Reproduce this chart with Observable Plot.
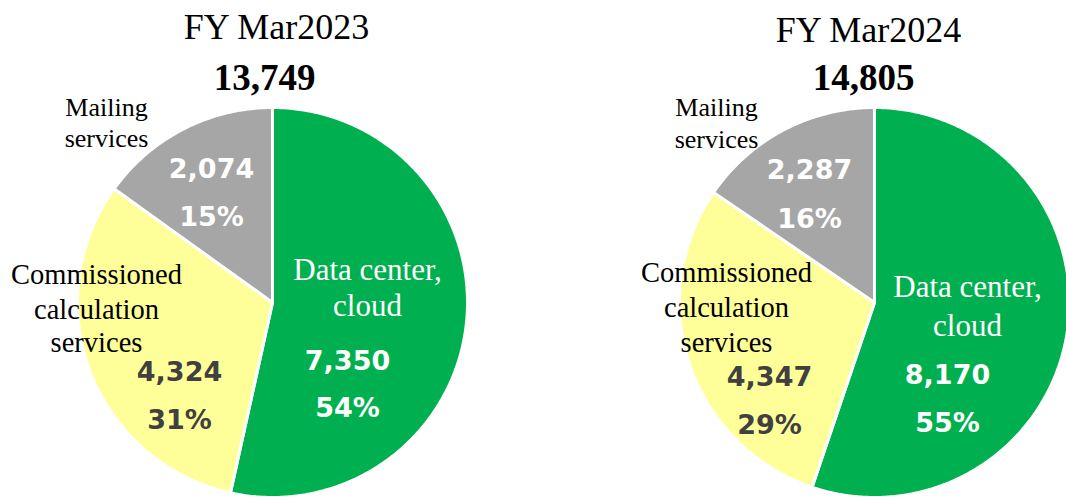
<!DOCTYPE html>
<html><head><meta charset="utf-8">
<script src="https://cdn.jsdelivr.net/npm/d3@7"></script>
<script src="https://cdn.jsdelivr.net/npm/@observablehq/plot@0.6"></script>
<style>
body{margin:0;background:#fff}
#chart{width:1066px;height:498px;overflow:hidden}
</style>
</head><body><div id="chart"></div>
<script>
// ---- data ----
const years = ["FY Mar2023", "FY Mar2024"];
const totals = [13749, 14805];
const categories = ["Data center, cloud", "Commissioned calculation services", "Mailing services"];
const categoryLines = [["Data center,", "cloud"], ["Commissioned", "calculation", "services"], ["Mailing", "services"]];
const dataCenterValues = [7350, 8170];
const commissionedValues = [4324, 4347];
const mailingValues = [2074, 2287];
const dataCenterShares = [54, 55];
const commissionedShares = [31, 29];
const mailingShares = [15, 16];

// ---- styles & layout ----
const colors = ["#00B050", "#FFFF99", "#A6A6A6"];
const nameColors = ["#ffffff", "#000000", "#000000"];
const valueColors = ["#ffffff", "#404040", "#ffffff"];
const nameSizes = [31, 28.5, 26];
const layout = {
  width: 1066, height: 498, radius: 195,
  centers: [[272, 302], [874, 302]],
  title: [[276, 38], [868, 41]],
  total: [[264, 89], [863, 89]],
  names: [
    [[95, [-23, 13]], [-176, [-19, 16, 49]], [-166, [-187, -156]]],
    [[93, [-6, 33]], [-148, [-21, 14, 49]], [-158, [-187, -155]]]
  ],
  values: [
    [[75, 67, 114], [-93, 78, 126], [-61, -125, -77]],
    [[73, 81, 129], [-105, 83, 131], [-65, -124, -75]]
  ]
};

const fmt = d3.format(",");
const valueSets = years.map((y, i) => [dataCenterValues[i], commissionedValues[i], mailingValues[i]]);
const shareSets = years.map((y, i) => [dataCenterShares[i], commissionedShares[i], mailingShares[i]]);

// slice outlines from d3.pie angles
const slicePoints = [];
valueSets.forEach((vals, i) => {
  const [cx, cy] = layout.centers[i];
  const R = layout.radius;
  const arcs = d3.pie().sort(null)(vals);
  arcs.forEach((a, k) => {
    const key = years[i] + "|" + categories[k];
    slicePoints.push({key, x: cx, y: cy, color: colors[k]});
    const n = Math.max(2, Math.ceil((a.endAngle - a.startAngle) / 0.01));
    for (let j = 0; j <= n; j++) {
      const t = a.startAngle + (a.endAngle - a.startAngle) * j / n;
      slicePoints.push({key, x: cx + R * Math.sin(t), y: cy - R * Math.cos(t), color: colors[k]});
    }
    slicePoints.push({key, x: cx, y: cy, color: colors[k]});
  });
});

// text rows
const titleRows = years.map((y, i) => ({x: layout.title[i][0], y: layout.title[i][1], text: y}));
const totalRows = totals.map((t, i) => ({x: layout.total[i][0], y: layout.total[i][1], text: fmt(t)}));
const nameRows = [];
const valueRows = [];
years.forEach((yr, i) => {
  const [cx, cy] = layout.centers[i];
  categoryLines.forEach((lines, k) => {
    const [dx, dys] = layout.names[i][k];
    lines.forEach((line, j) => nameRows.push({x: cx + dx, y: cy + dys[j], text: line, k}));
    const [vdx, vdy1, vdy2] = layout.values[i][k];
    valueRows.push({x: cx + vdx, y: cy + vdy1, text: fmt(valueSets[i][k]), k});
    valueRows.push({x: cx + vdx, y: cy + vdy2, text: shareSets[i][k] + "%", k});
  });
});

const serif = "'Liberation Serif','Times New Roman',serif";
const sans = "'DejaVu Sans',Verdana,sans-serif";

const marks = [
  Plot.line(slicePoints, {x: "x", y: "y", z: "key", fill: "color", stroke: "white", strokeWidth: 3, strokeLinejoin: "round"}),
  Plot.text(titleRows, {x: "x", y: "y", text: "text", fontSize: 36, fontFamily: serif, fill: "black", lineAnchor: "bottom"}),
  Plot.text(totalRows, {x: "x", y: "y", text: "text", fontSize: 37, fontWeight: "bold", fontFamily: serif, fill: "black", lineAnchor: "bottom"})
];
[0, 1, 2].forEach(k => {
  marks.push(Plot.text(nameRows.filter(d => d.k === k), {x: "x", y: "y", text: "text", fontSize: nameSizes[k], fontFamily: serif, fill: nameColors[k], lineAnchor: "bottom"}));
  marks.push(Plot.text(valueRows.filter(d => d.k === k), {x: "x", y: "y", text: "text", fontSize: 27, fontWeight: "bold", fontFamily: sans, fill: valueColors[k], lineAnchor: "bottom"}));
});

const chart = Plot.plot({
  width: layout.width, height: layout.height,
  margin: 0,
  x: {domain: [0, layout.width], range: [0, layout.width], axis: null},
  y: {domain: [0, layout.height], range: [0, layout.height], axis: null},
  color: {type: "identity"},
  style: {background: "white"},
  marks
});
document.getElementById("chart").appendChild(chart);
</script>
</body></html>
